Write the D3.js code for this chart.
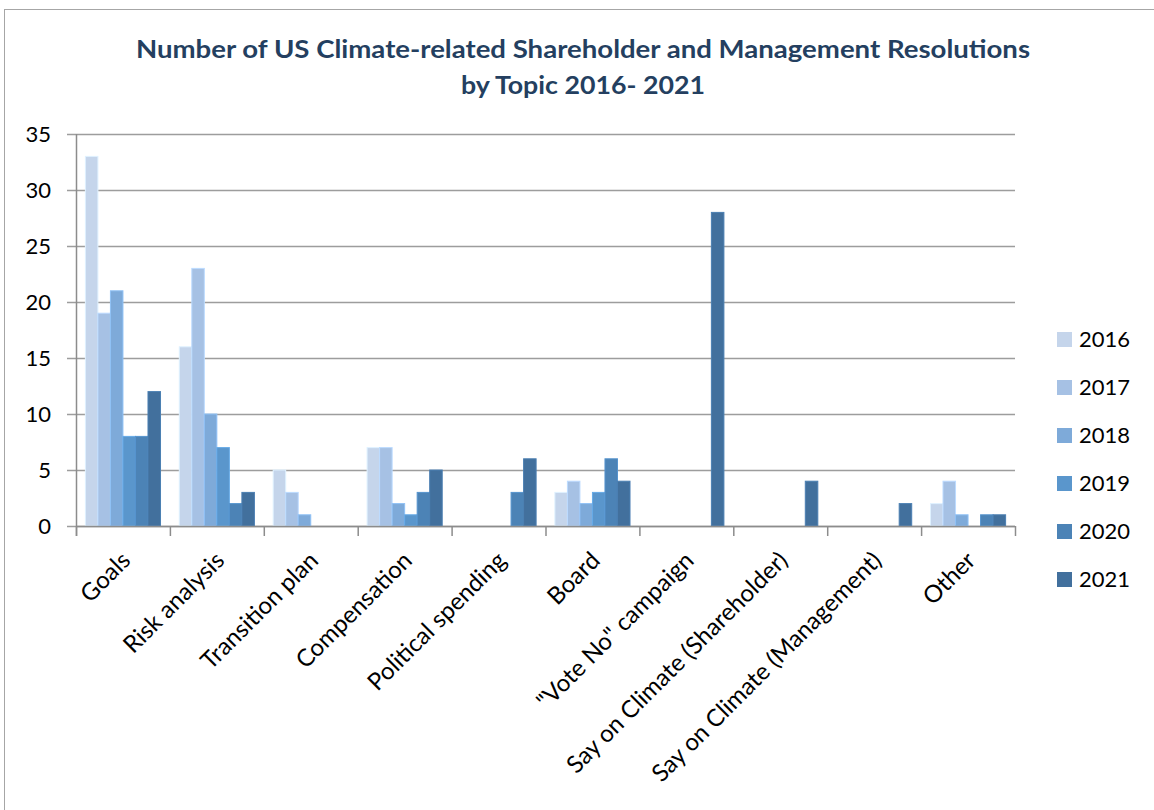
<!DOCTYPE html>
<html>
<head>
<meta charset="utf-8">
<script src="https://cdn.jsdelivr.net/npm/d3@7"></script>
<style>
  html, body { margin: 0; padding: 0; background: #fff; }
  svg { display: block; }
  text { font-family: Lato, "Open Sans", sans-serif; }
</style>
</head>
<body>
<svg id="chart" width="1154" height="810"></svg>
<script>
// Resolution topics (x categories)
const categories = [
  "Goals", "Risk analysis", "Transition plan", "Compensation",
  "Political spending", "Board", "\"Vote No\" campaign",
  "Say on Climate (Shareholder)", "Say on Climate (Management)", "Other"
];
// Years (series)
const years = ["2016", "2017", "2018", "2019", "2020", "2021"];
// Number of resolutions per topic, one array per year
const v2016 = [33, 16, 5, 7, 0, 3, 0, 0, 0, 2];
const v2017 = [19, 23, 3, 7, 0, 4, 0, 0, 0, 4];
const v2018 = [21, 10, 1, 2, 0, 2, 0, 0, 0, 1];
const v2019 = [8, 7, 0, 1, 0, 3, 0, 0, 0, 0];
const v2020 = [8, 2, 0, 3, 3, 6, 0, 0, 0, 1];
const v2021 = [12, 3, 0, 5, 6, 4, 28, 4, 2, 1];
const yTicks = [0, 5, 10, 15, 20, 25, 30, 35];
const colors = ["#c5d5eb", "#a6c1e4", "#7eaad9", "#5a96cc", "#4c83b6", "#42709d"];

const series = [v2016, v2017, v2018, v2019, v2020, v2021];

const svg = d3.select("#chart");

// outer frame
svg.append("rect")
  .attr("x", 4.5).attr("y", 9.5)
  .attr("width", 1160).attr("height", 820)
  .attr("fill", "none").attr("stroke", "#a6a6a6").attr("stroke-width", 1);

// title
const title = svg.append("g").attr("fill", "#243f60")
  .attr("font-weight", "bold").attr("text-anchor", "middle");
title.append("text").attr("x", 583).attr("y", 58)
  .attr("font-size", 25)
  .attr("textLength", 894).attr("lengthAdjust", "spacingAndGlyphs")
  .text("Number of US Climate-related Shareholder and Management Resolutions");
title.append("text").attr("x", 583).attr("y", 94)
  .attr("font-size", 25)
  .attr("textLength", 244).attr("lengthAdjust", "spacingAndGlyphs")
  .text("by Topic 2016- 2021");

const plot = { left: 76, right: 1015, top: 134, bottom: 526 };

const x0 = d3.scaleBand().domain(categories)
  .range([plot.left, plot.right]).paddingInner(0.2).paddingOuter(0.1);
const x1 = d3.scaleBand().domain(years).range([0, x0.bandwidth()]).padding(0);
const y = d3.scaleLinear().domain([0, 35]).range([plot.bottom, plot.top]);

// gridlines
svg.append("g").selectAll("line").data(yTicks).join("line")
  .attr("x1", plot.left - 9).attr("x2", plot.right)
  .attr("y1", d => y(d) + 0.5).attr("y2", d => y(d) + 0.5)
  .attr("stroke", "#9d9d9d").attr("stroke-width", 1.5);

// y tick labels
svg.append("g").selectAll("text").data(yTicks).join("text")
  .attr("x", 51).attr("y", d => y(d))
  .attr("dy", "0.36em").attr("text-anchor", "end")
  .attr("font-size", 22).attr("fill", "#000")
  .text(d => d);

// bars
const groups = svg.append("g").selectAll("g").data(categories).join("g")
  .attr("transform", c => `translate(${x0(c)},0)`);
groups.selectAll("rect")
  .data((c, i) => years.map((yr, k) => ({ yr, k, v: series[k][i] })))
  .join("rect")
  .filter(d => d.v > 0)
  .attr("x", d => x1(d.yr))
  .attr("width", x1.bandwidth())
  .attr("y", d => y(d.v))
  .attr("height", d => y(0) - y(d.v))
  .attr("fill", d => colors[d.k])
  .attr("stroke", d => d3.color(colors[d.k]).brighter(0.35))
  .attr("stroke-width", 1);

// axes lines
const step = (plot.right - plot.left) / categories.length;
svg.append("line")
  .attr("x1", plot.left + 0.5).attr("x2", plot.left + 0.5)
  .attr("y1", plot.top).attr("y2", plot.bottom + 10)
  .attr("stroke", "#8c8c8c").attr("stroke-width", 1.5);
svg.append("line")
  .attr("x1", plot.left).attr("x2", plot.right)
  .attr("y1", plot.bottom + 0.5).attr("y2", plot.bottom + 0.5)
  .attr("stroke", "#8c8c8c").attr("stroke-width", 1.5);
svg.append("g").selectAll("line").data(d3.range(categories.length + 1)).join("line")
  .attr("x1", i => plot.left + i * step + 0.5).attr("x2", i => plot.left + i * step + 0.5)
  .attr("y1", plot.bottom).attr("y2", plot.bottom + 10)
  .attr("stroke", "#8c8c8c").attr("stroke-width", 1.5);

// category labels, rotated
svg.append("g").selectAll("text").data(categories).join("text")
  .attr("transform", c => `translate(${x0(c) + x0.bandwidth() / 2 + 3},${plot.bottom + 30}) rotate(-45)`)
  .attr("text-anchor", "end").attr("dy", "0.35em")
  .attr("font-size", 24).attr("fill", "#000")
  .text(c => c);

// legend
const legend = svg.append("g").selectAll("g").data(years).join("g")
  .attr("transform", (d, i) => `translate(1057,${339 + i * 48})`);
legend.append("rect").attr("x", 0).attr("y", -7).attr("width", 15).attr("height", 15)
  .attr("fill", (d, i) => colors[i]);
legend.append("text").attr("x", 22).attr("y", 0).attr("dy", "0.36em")
  .attr("font-size", 22).attr("fill", "#000").text(d => d);
</script>
</body>
</html>
